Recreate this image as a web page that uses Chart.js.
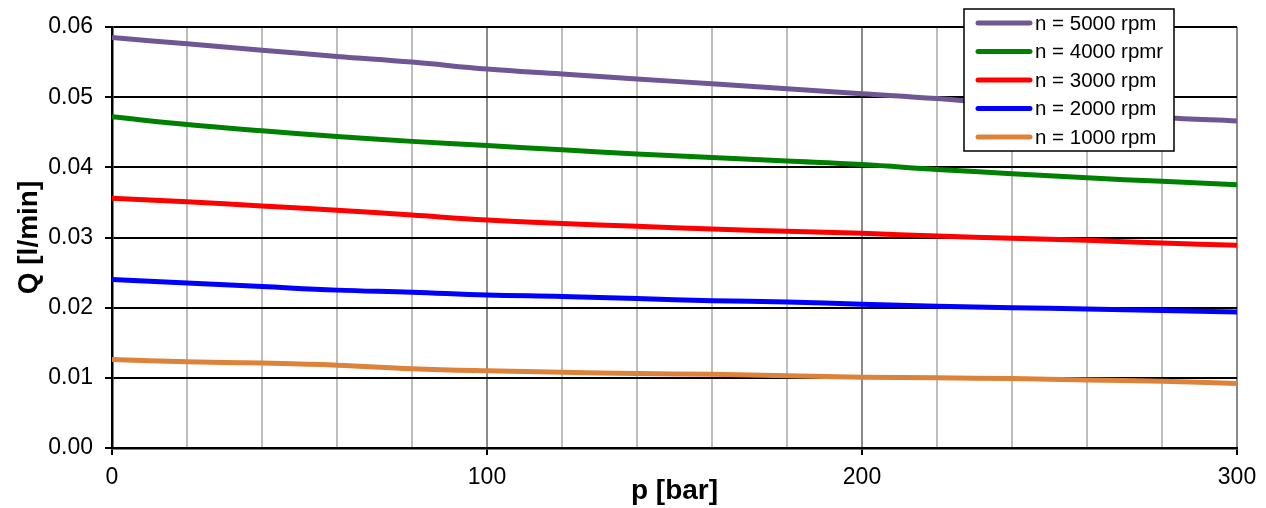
<!DOCTYPE html>
<html>
<head>
<meta charset="utf-8">
<script src="https://cdn.jsdelivr.net/npm/chart.js@4/dist/chart.umd.min.js"></script>
<style>
  html, body { margin: 0; padding: 0; background: #fff; }
  #wrap { width: 1266px; height: 508px; position: relative; }
</style>
</head>
<body>
<div id="wrap"><canvas id="qChart"></canvas></div>
<script>
// pressure p [bar]
const pressure = [0, 20, 40, 60, 80, 100, 120, 140, 160, 180, 200, 220, 240, 260, 280, 300];

// flow Q [l/min] per speed
const q5000 = [0.0585, 0.0576, 0.0567, 0.0558, 0.0550, 0.0540, 0.0533, 0.0526, 0.0519, 0.0512, 0.0505, 0.0498, 0.0489, 0.0480, 0.0471, 0.0466];
const q4000 = [0.0472, 0.0461, 0.0452, 0.0444, 0.0437, 0.0431, 0.0425, 0.0419, 0.0414, 0.0409, 0.0404, 0.0397, 0.0391, 0.0385, 0.0380, 0.0375];
const q3000 = [0.0356, 0.0351, 0.0345, 0.0339, 0.0332, 0.0325, 0.0320, 0.0316, 0.0312, 0.0309, 0.0306, 0.0302, 0.0299, 0.0296, 0.0292, 0.0289];
const q2000 = [0.0240, 0.0235, 0.0230, 0.0225, 0.0222, 0.0218, 0.0216, 0.0213, 0.0210, 0.0208, 0.0205, 0.0202, 0.0200, 0.0198, 0.0196, 0.0194];
const q1000 = [0.0126, 0.0123, 0.0121, 0.0118, 0.0113, 0.0110, 0.0108, 0.0106, 0.0105, 0.0103, 0.0101, 0.0100, 0.0099, 0.0097, 0.0095, 0.0092];

const seriesLabels = ['n = 5000 rpm', 'n = 4000 rpmr', 'n = 3000 rpm', 'n = 2000 rpm', 'n = 1000 rpm'];
const seriesValues = [q5000, q4000, q3000, q2000, q1000];
const seriesColors = ['#6F5694', '#008000', '#FF0000', '#0000FF', '#DD823A'];

const FONT = '"Liberation Sans", Arial, sans-serif';

// legend box drawn inside the plot, top right
const legendBox = {
  id: 'legendBox',
  afterDraw(chart) {
    const c = chart.ctx;
    const x0 = 964, y0 = 9, w = 210, h = 142;
    c.save();
    c.fillStyle = '#fff';
    c.fillRect(x0, y0, w, h);
    c.strokeStyle = '#000';
    c.lineWidth = 1.5;
    c.strokeRect(x0, y0, w, h);
    c.font = '20.5px ' + FONT;
    c.textBaseline = 'middle';
    chart.data.datasets.forEach((ds, i) => {
      const y = y0 + 14 + i * 28.5;
      c.strokeStyle = ds.borderColor;
      c.lineWidth = 5;
      c.lineCap = 'round';
      c.beginPath();
      c.moveTo(x0 + 14, y);
      c.lineTo(x0 + 66, y);
      c.stroke();
      c.fillStyle = '#000';
      c.fillText(ds.label, x0 + 71, y + 1);
    });
    c.restore();
  }
};

const ctx = document.getElementById('qChart').getContext('2d');
new Chart(ctx, {
  type: 'line',
  data: {
    datasets: seriesValues.map((vals, i) => ({
      label: seriesLabels[i],
      data: vals.map((v, k) => ({ x: pressure[k], y: v })),
      borderColor: seriesColors[i],
      backgroundColor: seriesColors[i],
      borderWidth: 5,
      pointRadius: 0,
      tension: 0.4,
      fill: false
    }))
  },
  options: {
    responsive: true,
    maintainAspectRatio: false,
    animation: false,
    layout: { padding: { top: 27, right: 29, left: 0, bottom: 0 } },
    plugins: {
      legend: { display: false },
      tooltip: { enabled: false }
    },
    scales: {
      x: {
        type: 'linear',
        min: 0,
        max: 300,
        ticks: {
          stepSize: 20,
          autoSkip: false,
          maxRotation: 0,
          color: '#000',
          padding: 9,
          font: { family: FONT, size: 23 },
          callback: v => (v % 100 === 0 ? String(v) : '')
        },
        grid: {
          color: c => (c.tick && c.tick.value % 100 === 0 ? '#8a8a8a' : '#bdbdbd'),
          lineWidth: 2,
          tickLength: 7,
          tickColor: c => (c.tick && c.tick.value % 100 === 0 ? '#000' : 'rgba(0,0,0,0)')
        },
        border: { color: '#000', width: 2.5 },
        title: {
          display: true,
          text: 'p [bar]',
          color: '#000',
          font: { family: FONT, size: 28, weight: 'bold' },
          padding: { top: -10, bottom: 0 }
        },
        afterFit: s => { s.height = 60; }
      },
      y: {
        min: 0,
        max: 0.06,
        ticks: {
          stepSize: 0.01,
          color: '#000',
          padding: 12,
          font: { family: FONT, size: 23 },
          callback: v => Number(v).toFixed(2)
        },
        grid: {
          color: '#000',
          lineWidth: 2,
          tickLength: 7,
          tickColor: '#000'
        },
        border: { color: '#000', width: 2.5 },
        title: {
          display: true,
          text: 'Q [l/min]',
          color: '#000',
          font: { family: FONT, size: 28, weight: 'bold' },
          padding: { top: 12, bottom: 0 }
        },
        afterFit: s => { s.width = 112; }
      }
    }
  },
  plugins: [legendBox]
});
</script>
</body>
</html>
